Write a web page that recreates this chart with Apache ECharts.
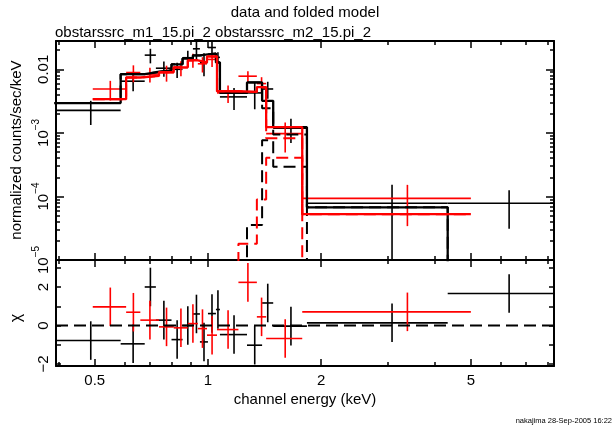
<!DOCTYPE html>
<html>
<head>
<meta charset="utf-8">
<script src="https://cdn.jsdelivr.net/npm/echarts@6.0.0/dist/echarts.min.js"></script>
<style>
html, body { margin: 0; padding: 0; background: #fff; }
#chart { width: 614px; height: 434px; }
</style>
</head>
<body>
<div id="chart"></div>
<script>
// obstarssrc_m1 (black): bin edges in keV, data, 1-sigma error, folded model and its two components
var m1Lo = [0.39, 0.586, 0.679, 0.727, 0.800, 0.856, 0.912, 0.952, 1.000, 1.050, 1.076, 1.270, 1.393, 1.491, 1.833, 4.339];
var m1Hi = [0.586, 0.679, 0.727, 0.800, 0.856, 0.912, 0.952, 1.000, 1.050, 1.076, 1.270, 1.393, 1.491, 1.833, 4.339, 8.30];
var m1Data = [2.26e-3, 6.5e-3, 1.67e-2, 1.04e-2, 1.0e-2, 1.52e-2, 2.1e-2, 1.28e-2, 2.2e-2, 1.54e-2, 3.68e-3, 4.25e-3, 4.9e-3, 1.18e-3, 7.8e-5, 7.8e-5];
var m1Err = [0.93e-3, 2.0e-3, 4.3e-3, 2.8e-3, 2.7e-3, 4.4e-3, 7.5e-3, 5.0e-3, 6.8e-3, 3.1e-3, 1.4e-3, 1.9e-3, 1.46e-3, 4.9e-4, 7.5e-5, 4.7e-5];
var m1Model = [2.94e-3, 8.37e-3, 8.98e-3, 9.65e-3, 1.195e-2, 1.48e-2, 1.65e-2, 1.71e-2, 1.77e-2, 1.28e-2, 4.25e-3, 6.22e-3, 3.19e-3, 1.23e-3, 6.75e-5, 0];
var m1Soft = [2.94e-3, 8.37e-3, 8.98e-3, 9.65e-3, 1.195e-2, 1.48e-2, 1.65e-2, 1.71e-2, 1.77e-2, 1.28e-2, 4.25e-3, 6.18e-3, 2.43e-3, 9.4e-4, 0, 0];
var m1Hard = [0, 0, 0, 0, 0, 0, 0, 0, 0, 0, 0, 3.55e-5, 7.65e-4, 2.92e-4, 6.75e-5, 0];
var m1Chi = [-0.78, -0.95, 2.0, 0.28, -0.73, 0.0, 0.6, -0.85, 0.62, 0.83, -0.47, -1.02, 1.17, -0.03, 0.14, 1.66];

// obstarssrc_m2 (red)
var m2Lo = [0.494, 0.606, 0.661, 0.741, 0.811, 0.884, 0.940, 0.994, 1.057, 1.205, 1.349, 1.428, 1.781];
var m2Hi = [0.606, 0.661, 0.741, 0.811, 0.884, 0.940, 0.994, 1.057, 1.205, 1.349, 1.428, 1.781, 5.0];
var m2Data = [4.9e-3, 8.89e-3, 8.4e-3, 8.89e-3, 1.06e-2, 1.41e-2, 1.22e-2, 1.43e-2, 4.25e-3, 7.79e-3, 5.96e-3, 9.72e-4, 9.31e-5];
var m2Err = [1.68e-3, 2.65e-3, 2.2e-3, 2.5e-3, 2.8e-3, 3.5e-3, 3.3e-3, 3.4e-3, 1.3e-3, 1.5e-3, 1.55e-3, 4.8e-4, 5.9e-5];
var m2Model = [3.39e-3, 7.43e-3, 7.87e-3, 8.98e-3, 1.074e-2, 1.38e-2, 1.284e-2, 1.59e-2, 4.51e-3, 4.40e-3, 5.26e-3, 1.23e-3, 5.26e-5];
var m2Soft = [3.39e-3, 7.43e-3, 7.87e-3, 8.98e-3, 1.074e-2, 1.38e-2, 1.284e-2, 1.59e-2, 4.51e-3, 4.38e-3, 5.17e-3, 8.24e-4, 0];
var m2Hard = [0, 0, 0, 0, 0, 0, 0, 0, 0, 1.80e-5, 8.98e-5, 4.06e-4, 5.26e-5];
var m2Chi = [0.97, 0.69, 0.28, -0.07, -0.12, 0.1, -0.16, -0.5, -0.21, 2.24, 0.45, -0.67, 0.71];

// tick positions
var xMajorTicks = [0.5, 1, 2, 5];
var xMinorTicks = [0.4, 0.6, 0.7, 0.8, 0.9, 3, 4, 6, 7, 8];
var yMajorTicks = [1e-5, 1e-4, 1e-3, 1e-2];
var yMinorTicks = [2e-5, 3e-5, 4e-5, 5e-5, 6e-5, 7e-5, 8e-5, 9e-5, 2e-4, 3e-4, 4e-4, 5e-4, 6e-4, 7e-4, 8e-4, 9e-4,
                   2e-3, 3e-3, 4e-3, 5e-3, 6e-3, 7e-3, 8e-3, 9e-3, 2e-2];
var chiTicks = [-2, -1, 0, 1, 2, 3];
var chiLabels = [-2, 0, 2];

var XMIN = -0.404, XMAX = 0.920;
var YMIN = -5, YMAX = -1.555;
var CMIN = -2.1, CMAX = 3.4;
var FLOOR = -9;
var FONT = 'Liberation Sans, Arial, sans-serif';

function lg(v) { return v > 0 ? Math.log10(v) : FLOOR; }

function crossRows(lo, hi, val, err) {
    return lo.map(function (l, i) {
        var m = (l + hi[i]) / 2;
        return [lg(l), lg(hi[i]), lg(m), lg(val[i]), lg(val[i] - err[i]), lg(val[i] + err[i])];
    });
}
function chiRows(lo, hi, chi) {
    return lo.map(function (l, i) {
        var m = (l + hi[i]) / 2;
        return [lg(l), lg(hi[i]), lg(m), chi[i], chi[i] - 1, chi[i] + 1];
    });
}
function stepPts(lo, hi, val) {
    var pts = [];
    lo.forEach(function (l, i) {
        pts.push([lg(l), lg(val[i])]);
        pts.push([lg(hi[i]), lg(val[i])]);
    });
    return pts;
}

function crossSeries(rows, color, xi, yi, ymin, ymax) {
    return {
        type: 'custom', xAxisIndex: xi, yAxisIndex: yi, data: rows, clip: false,
        encode: {x: [0, 1, 2], y: [3]},
        renderItem: function (params, api) {
            var xl = Math.max(api.value(0), XMIN), xh = Math.min(api.value(1), XMAX);
            var xm = api.value(2), y = api.value(3);
            var yl = Math.max(api.value(4), ymin), yh = Math.min(api.value(5), ymax);
            var a = api.coord([xl, y]), b = api.coord([xh, y]);
            var c = api.coord([xm, yl]), d = api.coord([xm, yh]);
            var st = {stroke: color, lineWidth: 1.6};
            return {type: 'group', children: [
                {type: 'line', shape: {x1: a[0], y1: a[1], x2: b[0], y2: b[1]}, style: st},
                {type: 'line', shape: {x1: c[0], y1: c[1], x2: d[0], y2: d[1]}, style: st}
            ]};
        }
    };
}
function stepSeries(pts, color, dashed) {
    return {
        type: 'line', xAxisIndex: 0, yAxisIndex: 0, data: pts, symbol: 'none', clip: true,
        lineStyle: {color: color, width: dashed ? 2 : 2.3, type: dashed ? [12, 6] : 'solid'}
    };
}

function xAx(grid, pos, vals, len, line, labels) {
    return {
        type: 'value', gridIndex: grid, position: pos, min: XMIN, max: XMAX,
        axisLine: {show: line, onZero: false, lineStyle: {color: '#000', width: 2}},
        axisTick: {show: true, inside: true, length: len, customValues: vals, lineStyle: {color: '#000', width: 1.5}},
        axisLabel: labels ? {
            show: true, customValues: vals, margin: 7, color: '#000', fontSize: 15, fontFamily: FONT,
            formatter: function (v) { return String(Math.round(Math.pow(10, v) * 10) / 10); }
        } : {show: false},
        splitLine: {show: false}
    };
}
function yAx(grid, pos, min, max, vals, len, line, label) {
    return {
        type: 'value', gridIndex: grid, position: pos, min: min, max: max,
        axisLine: {show: line, onZero: false, lineStyle: {color: '#000', width: 2}},
        axisTick: {show: true, inside: true, length: len, customValues: vals, lineStyle: {color: '#000', width: 1.5}},
        axisLabel: label || {show: false},
        splitLine: {show: false}
    };
}

var xMaj = xMajorTicks.map(Math.log10), xMin = xMinorTicks.map(Math.log10);
var yMaj = yMajorTicks.map(Math.log10), yMin = yMinorTicks.map(Math.log10);

var chart = echarts.init(document.getElementById('chart'), null, {renderer: 'canvas'});
var option = {
    animation: false,
    backgroundColor: '#fff',
    grid: [
        {left: 56, top: 41, width: 498, height: 219},
        {left: 56, top: 260, width: 498, height: 106}
    ],
    xAxis: [
        xAx(0, 'bottom', xMaj, 7, true, false),
        xAx(0, 'bottom', xMin, 4, false, false),
        xAx(0, 'top', xMaj, 7, true, false),
        xAx(0, 'top', xMin, 4, false, false),
        xAx(1, 'bottom', xMaj, 7, true, true),
        xAx(1, 'bottom', xMin, 4, false, false),
        xAx(1, 'top', xMaj, 7, true, false),
        xAx(1, 'top', xMin, 4, false, false)
    ],
    yAxis: [
        yAx(0, 'left', YMIN, YMAX, yMaj, 8, true, {
            show: true, customValues: yMaj, rotate: 90, margin: 5, color: '#000', fontSize: 15, fontFamily: FONT,
            formatter: function (v) {
                var n = Math.round(v);
                if (n === -2) return '0.01';
                return '{b|10}{s|\u2212' + (-n) + '}';
            },
            rich: {
                b: {fontSize: 15, lineHeight: 20, verticalAlign: 'bottom', fontFamily: FONT, color: '#000'},
                s: {fontSize: 10, lineHeight: 10, verticalAlign: 'top', fontFamily: FONT, color: '#000'}
            }
        }),
        yAx(0, 'left', YMIN, YMAX, yMin, 4, false),
        yAx(0, 'right', YMIN, YMAX, yMaj, 8, true),
        yAx(0, 'right', YMIN, YMAX, yMin, 4, false),
        yAx(1, 'left', CMIN, CMAX, chiTicks, 5, true, {
            show: true, customValues: chiLabels, rotate: 90, margin: 5, color: '#000', fontSize: 15, fontFamily: FONT,
            formatter: function (v) { return v < 0 ? '\u2212' + (-v) : String(v); }
        }),
        yAx(1, 'right', CMIN, CMAX, chiTicks, 5, true)
    ],
    series: [
        crossSeries(crossRows(m1Lo, m1Hi, m1Data, m1Err), '#000', 0, 0, YMIN, 10),
        stepSeries(stepPts(m1Lo, m1Hi, m1Model), '#000', false),
        stepSeries(stepPts(m1Lo, m1Hi, m1Soft), '#000', true),
        stepSeries(stepPts(m1Lo, m1Hi, m1Hard), '#000', true),
        crossSeries(crossRows(m2Lo, m2Hi, m2Data, m2Err), '#ff0000', 0, 0, YMIN, 10),
        stepSeries(stepPts(m2Lo, m2Hi, m2Model), '#ff0000', false),
        stepSeries(stepPts(m2Lo, m2Hi, m2Soft), '#ff0000', true),
        stepSeries(stepPts(m2Lo, m2Hi, m2Hard), '#ff0000', true),
        {
            type: 'line', xAxisIndex: 4, yAxisIndex: 4, symbol: 'none',
            data: [[XMIN, 0], [XMAX, 0]],
            lineStyle: {color: '#000', width: 2, type: [12, 6]}
        },
        crossSeries(chiRows(m1Lo, m1Hi, m1Chi), '#000', 4, 4, CMIN, CMAX),
        crossSeries(chiRows(m2Lo, m2Hi, m2Chi), '#ff0000', 4, 4, CMIN, CMAX)
    ],
    graphic: [
        {type: 'text', x: 305, y: 13, style: {text: 'data and folded model', fill: '#000', font: '15px ' + FONT, textAlign: 'center', textVerticalAlign: 'middle'}},
        {type: 'text', x: 55, y: 33, style: {text: 'obstarssrc_m1_15.pi_2 obstarssrc_m2_15.pi_2', fill: '#000', font: '15px ' + FONT, textAlign: 'left', textVerticalAlign: 'middle'}},
        {type: 'text', x: 305, y: 400, style: {text: 'channel energy (keV)', fill: '#000', font: '15px ' + FONT, textAlign: 'center', textVerticalAlign: 'middle'}},
        {type: 'text', x: 17, y: 150, rotation: Math.PI / 2, style: {text: 'normalized counts/sec/keV', fill: '#000', font: '15px ' + FONT, textAlign: 'center', textVerticalAlign: 'middle'}},
        {type: 'text', x: 17, y: 318, rotation: Math.PI / 2, style: {text: '\u03c7', fill: '#000', font: '16px ' + FONT, textAlign: 'center', textVerticalAlign: 'middle'}},
        {type: 'text', x: 612, y: 421, style: {text: 'nakajima 28-Sep-2005 16:22', fill: '#000', font: '7.5px ' + FONT, textAlign: 'right', textVerticalAlign: 'middle'}}
    ]
};
chart.setOption(option);
</script>
</body>
</html>
